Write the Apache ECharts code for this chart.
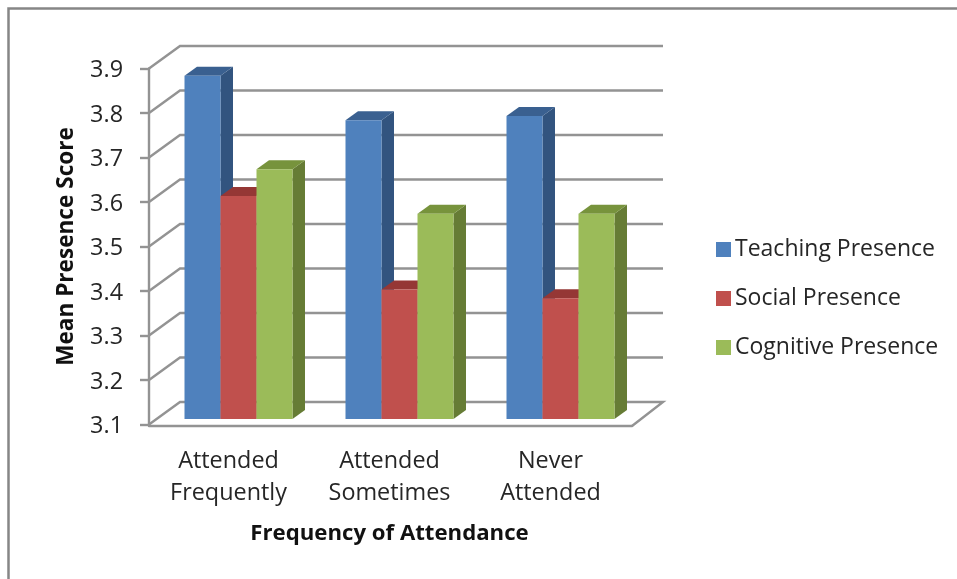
<!DOCTYPE html>
<html><head><meta charset="utf-8">
<style>html,body{margin:0;padding:0;background:#fff}#c{width:957px;height:579px}</style>
<script src="https://cdn.jsdelivr.net/npm/echarts@6/dist/echarts.min.js"></script>
</head><body><div id="c"></div>
<script>
const categories = ['Attended\nFrequently', 'Attended\nSometimes', 'Never\nAttended'];
const teaching = [3.87, 3.77, 3.78];
const social = [3.60, 3.39, 3.37];
const cognitive = [3.66, 3.56, 3.56];
const wallTicks = [3.1, 3.2, 3.3, 3.4, 3.5, 3.6, 3.7, 3.8, 3.9];

const FONT = '"Open Sans", sans-serif';
const TEXT = '#262626';
const LINE = '#939393';
const WALL_DX = 31, WALL_DY = -22.5;
const BAR_W = 36, DEPTH_X = 12.5, DEPTH_Y = -9, FACE_DX = 9, FACE_DY = -6, AXIS_MIN = 3.1;

function barSeries(name, values, idx, face, top, side) {
  return {
    name, type: 'custom', z: 5 + idx,
    itemStyle: { color: face },
    data: values.map((v, i) => [i, v]),
    encode: { x: 0, y: 1 },
    renderItem(params, api) {
      const p = api.coord([api.value(0), api.value(1)]);
      const base = api.coord([api.value(0), AXIS_MIN]);
      const x0 = p[0] + FACE_DX + (idx - 1.5) * BAR_W;
      const x1 = x0 + BAR_W;
      const yT = p[1] + FACE_DY, yB = base[1] + FACE_DY + 0.5;
      const poly = (points, fill) => ({ type: 'polygon', shape: { points }, style: { fill, stroke: null } });
      return { type: 'group', children: [
        poly([[x1, yT], [x1 + DEPTH_X, yT + DEPTH_Y], [x1 + DEPTH_X, yB + DEPTH_Y], [x1, yB]], side),
        poly([[x0, yT], [x0 + DEPTH_X, yT + DEPTH_Y], [x1 + DEPTH_X, yT + DEPTH_Y], [x1, yT]], top),
        { type: 'rect', shape: { x: x0, y: yT, width: BAR_W, height: yB - yT }, style: { fill: face } }
      ] };
    }
  };
}

const wallSeries = {
  name: 'wall', type: 'custom', z: 1, silent: true,
  data: wallTicks.map(v => [0, v]),
  encode: { y: 1 },
  renderItem(params, api) {
    const rect = params.coordSys;
    const y = api.coord([0, api.value(1)])[1];
    const xL = rect.x, xR = rect.x + rect.width;
    const style = { stroke: LINE, lineWidth: 2.4, fill: null };
    const pts = [[xL, y], [xL + WALL_DX, y + WALL_DY], [xR + WALL_DX, y + WALL_DY]];
    if (params.dataIndex === 0) pts.push([xR, y + 1.5]);
    return { type: 'polyline', shape: { points: pts }, style };
  }
};

const chart = echarts.init(document.getElementById('c'), null, { renderer: 'canvas' });
chart.setOption({
  animation: false,
  backgroundColor: '#fff',
  graphic: [
    { type: 'polyline', shape: { points: [[8.5, 579], [8.5, 8.5], [957, 8.5]] }, style: { stroke: '#868686', lineWidth: 2.5, fill: null }, silent: true }
  ],
  grid: { left: 149, top: 68.5, width: 483, height: 356 },
  legend: {
    data: ['Teaching Presence', 'Social Presence', 'Cognitive Presence'],
    orient: 'vertical', left: 711, top: 232, icon: 'rect',
    itemWidth: 15, itemHeight: 15, itemGap: 24,
    textStyle: { fontFamily: FONT, fontSize: 23, lineHeight: 25, color: TEXT, padding: [0, 0, 0, -1] }
  },
  xAxis: {
    type: 'category', data: categories, offset: 1.5,
    axisLine: { lineStyle: { color: LINE, width: 2.4 } },
    axisTick: { show: false },
    axisLabel: { fontFamily: FONT, fontSize: 23.4, color: TEXT, lineHeight: 32, margin: 19, padding: [0, 2, 0, 0] },
    name: 'Frequency of Attendance', nameLocation: 'middle', nameGap: 97,
    nameTextStyle: { fontFamily: FONT, fontSize: 22.2, fontWeight: 'bold', color: '#111', padding: [0, 2, 0, 0] }
  },
  yAxis: {
    type: 'value', min: 3.1, max: 3.9, interval: 0.1,
    axisLine: { show: true, lineStyle: { color: LINE, width: 2.4 } },
    axisTick: { show: true, length: 9, lineStyle: { color: LINE, width: 2.4 } },
    splitLine: { show: false },
    axisLabel: {
      margin: 26,
      formatter: v => '{a|' + v.toFixed(1) + '}',
      rich: { a: { fontFamily: FONT, fontSize: 23.4, color: TEXT, padding: [4, 0, 0, 0] } }
    },
    name: 'Mean Presence Score', nameLocation: 'middle', nameGap: 71,
    nameTextStyle: { fontFamily: FONT, fontSize: 22.6, fontWeight: 'bold', color: '#111' }
  },
  series: [
    wallSeries,
    barSeries('Teaching Presence', teaching, 0, '#4f81bd', '#3a6090', '#32547f'),
    barSeries('Social Presence', social, 1, '#c0504d', '#953735', '#8c3331'),
    barSeries('Cognitive Presence', cognitive, 2, '#9bbb59', '#77933c', '#667c35')
  ]
});
</script></body></html>
